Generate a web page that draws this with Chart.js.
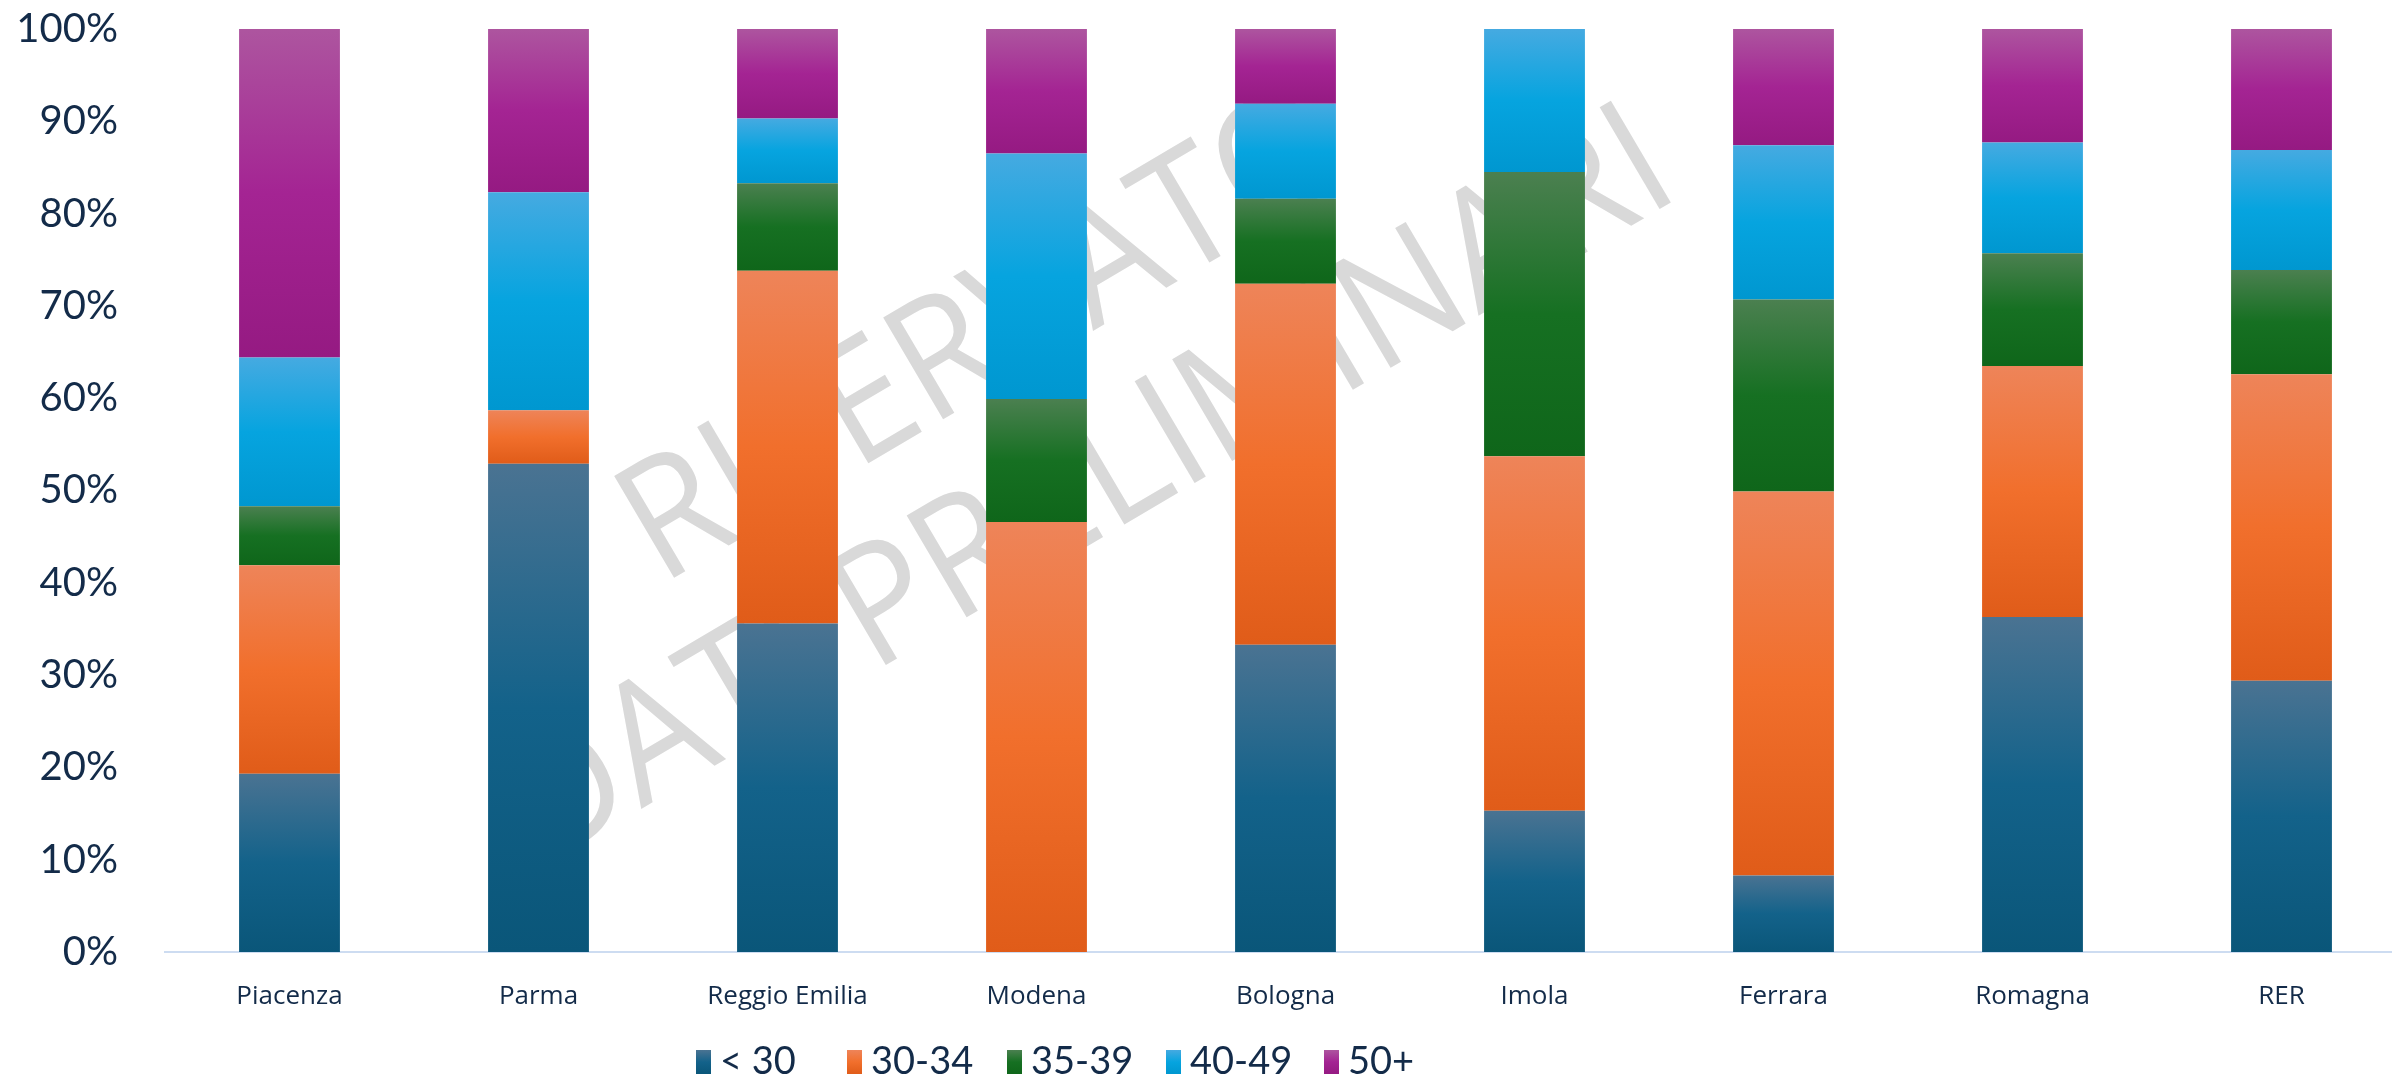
<!DOCTYPE html>
<html>
<head>
<meta charset="utf-8">
<script src="https://cdn.jsdelivr.net/npm/chart.js@4/dist/chart.umd.min.js"></script>
<style>
  html, body { margin: 0; padding: 0; background: #ffffff; overflow: hidden; }
  #wrap { position: relative; width: 2420px; height: 1078px; }
</style>
</head>
<body>
<div id="wrap"><canvas id="chart_1"></canvas></div>
<script>
//Categories (AUSL) and age bands
let categories = ['Piacenza', 'Parma', 'Reggio Emilia', 'Modena', 'Bologna', 'Imola', 'Ferrara', 'Romagna', 'RER'];
let age_labels = ['< 30', '30-34', '35-39', '40-49', '50+'];

//Shares per age band (%)
let under_30 = [19.3, 52.9, 35.6, 0, 33.3, 15.3, 8.3, 36.3, 29.4];
let age_30_34 = [22.6, 5.8, 38.2, 46.6, 39.1, 38.4, 41.6, 27.2, 33.2];
let age_35_39 = [6.4, 0, 9.5, 13.3, 9.2, 30.8, 20.8, 12.2, 11.3];
let age_40_49 = [16.1, 23.6, 7.0, 26.6, 10.3, 15.5, 16.7, 12.0, 13.0];
let age_50_plus = [35.6, 17.7, 9.7, 13.5, 8.1, 0, 12.6, 12.3, 13.1];

//Y axis ticks
let y_ticks = [0, 10, 20, 30, 40, 50, 60, 70, 80, 90, 100];

let series_list = [under_30, age_30_34, age_35_39, age_40_49, age_50_plus];

//gradient stops (top, middle, bottom) for each band
let band_colors = [
    ['#4a7392', '#13628a', '#0a5679'],
    ['#ee8459', '#f16f2c', '#e05c19'],
    ['#4b8050', '#167022', '#0f661a'],
    ['#45aae1', '#06a4df', '#0097d0'],
    ['#ad559f', '#a42493', '#951a82']
];

let text_color = '#132b49';

const makeGradient = (ctx2d, top, bottom, stops) => {
    let g = ctx2d.createLinearGradient(0, top, 0, bottom);
    g.addColorStop(0, stops[0]);
    g.addColorStop(0.5, stops[1]);
    g.addColorStop(1, stops[2]);
    return g;
};

const segmentFill = (context) => {
    let chart = context.chart;
    let stops = band_colors[context.datasetIndex];
    let y_scale = chart.scales.y;
    if (context.type !== 'data' || !chart.chartArea || !y_scale) return stops[1];
    let idx = context.dataIndex;
    let start = 0;
    for (let k = 0; k < context.datasetIndex; k++) start += series_list[k][idx];
    let end = start + series_list[context.datasetIndex][idx];
    let top = y_scale.getPixelForValue(end);
    let bottom = y_scale.getPixelForValue(start);
    if (bottom - top < 1) return stops[1];
    return makeGradient(chart.ctx, top, bottom, stops);
};

//watermark behind the bars
const watermark = {
    id: 'watermark',
    beforeDatasetsDraw(chart) {
        let c = chart.ctx;
        let lines = [['RISERVATO', 985, 340], ['DATI PRELIMINARI', 1090, 490]];
        c.save();
        c.fillStyle = '#d9d9d9';
        c.font = '156px "Open Sans"';
        c.textAlign = 'center';
        c.textBaseline = 'middle';
        lines.forEach(l => {
            c.save();
            c.translate(l[1], l[2]);
            c.rotate(-30.5 * Math.PI / 180);
            c.scale(1, 1.06);
            c.fillText(l[0], 0, 0);
            c.restore();
        });
        c.restore();
    }
};

//legend drawn below the axis
const bottomLegend = {
    id: 'bottomLegend',
    afterDraw(chart) {
        let c = chart.ctx;
        let box_left = [696, 847, 1007, 1166, 1324];
        let box_top = 1050, box_h = 24, box_w = 15;
        c.save();
        c.font = '38px Lato';
        c.textBaseline = 'middle';
        age_labels.forEach((lab, i) => {
            c.fillStyle = makeGradient(c, box_top, box_top + box_h, band_colors[i]);
            c.fillRect(box_left[i], box_top, box_w, box_h);
            c.fillStyle = text_color;
            c.fillText(lab, box_left[i] + box_w + 9, box_top + box_h / 2);
        });
        c.restore();
    }
};

let chart_canvas1 = document.getElementById('chart_1');

let chart = new Chart(chart_canvas1, {
    type: 'bar',
    data: {
        labels: categories,
        datasets: series_list.map((vals, i) => ({
            label: age_labels[i],
            data: vals,
            backgroundColor: segmentFill,
            borderWidth: 0,
            categoryPercentage: 1,
            barPercentage: 0.405
        }))
    },
    options: {
        responsive: true,
        maintainAspectRatio: false,
        animation: false,
        devicePixelRatio: 1,
        layout: { padding: { top: 29, right: 14, left: 0, bottom: 0 } },
        plugins: {
            legend: { display: false },
            tooltip: { enabled: false }
        },
        scales: {
            x: {
                stacked: true,
                grid: { display: false, drawTicks: false },
                border: { display: true, color: '#cddcf1', width: 2 },
                ticks: {
                    color: text_color,
                    font: { family: '"Open Sans"', size: 26 },
                    padding: 29,
                    maxRotation: 0
                },
                afterFit(scale) { scale.height = 126; }
            },
            y: {
                stacked: true,
                min: 0,
                max: 100,
                afterBuildTicks(scale) { scale.ticks = y_ticks.map(v => ({ value: v })); },
                grid: { display: false, drawTicks: true, tickLength: 47 },
                border: { display: false },
                ticks: {
                    color: text_color,
                    font: { family: 'Lato', size: 40 },
                    padding: 0,
                    callback: (v) => v + '%'
                },
                afterFit(scale) { scale.width = 165; }
            }
        }
    },
    plugins: [watermark, bottomLegend]
});
</script>
</body>
</html>
